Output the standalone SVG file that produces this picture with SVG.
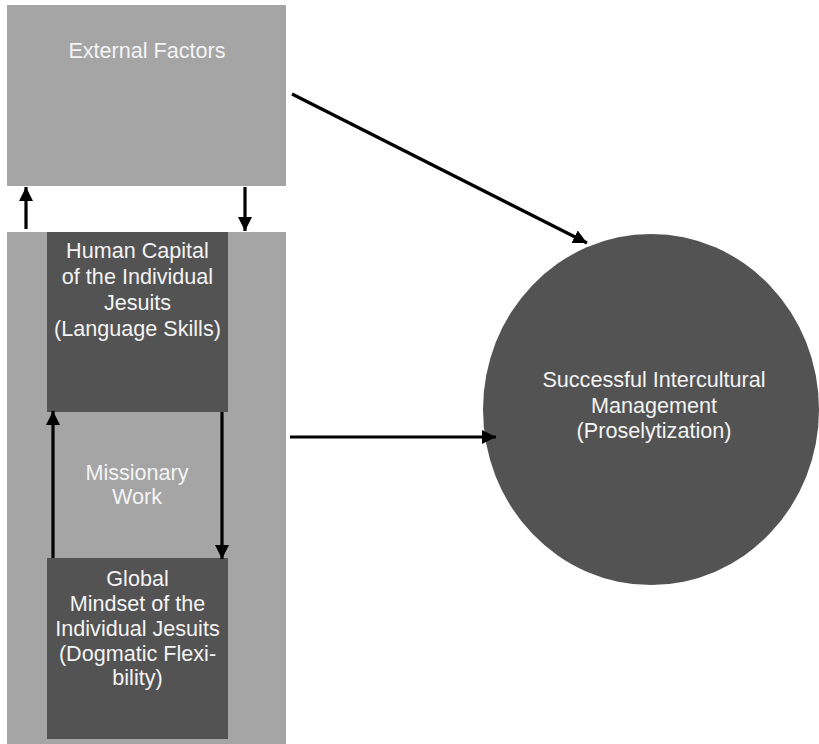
<svg xmlns="http://www.w3.org/2000/svg" width="819" height="744" viewBox="0 0 819 744">
<defs>
<style>
.light{fill:#a5a5a5}
.dark{fill:#535353}
.t{font-family:"Liberation Sans",Arial,sans-serif;font-size:21.6px;fill:#f4f4f4;text-anchor:middle}
.c{stroke:#000;stroke-width:3.2;fill:none}
</style>
<marker id="ah" markerUnits="userSpaceOnUse" markerWidth="14" markerHeight="14" viewBox="0 0 12 12" refX="12" refY="6" orient="auto">
<path d="M0,0 L12,6 L0,12 Z" fill="#000"/>
</marker>
</defs>
<rect width="819" height="744" fill="#fff"/>
<g id="external">
<rect class="light" x="7" y="5" width="279" height="181"/>
<text class="t" x="147" y="58">External Factors</text>
</g>
<g id="missionary">
<rect class="light" x="7" y="232" width="279" height="512"/>
<text class="t" x="137" y="480">Missionary</text>
<text class="t" x="137" y="504">Work</text>
</g>
<g id="human-capital">
<rect class="dark" x="47" y="232" width="181" height="180"/>
<text class="t" x="137.5" y="258">Human Capital</text>
<text class="t" x="137.5" y="284">of the Individual</text>
<text class="t" x="137.5" y="310">Jesuits</text>
<text class="t" x="137.5" y="336">(Language Skills)</text>
</g>
<g id="global-mindset">
<rect class="dark" x="47" y="558" width="181" height="181"/>
<text class="t" x="137.5" y="586">Global</text>
<text class="t" x="137.5" y="611">Mindset of the</text>
<text class="t" x="137.5" y="636">Individual Jesuits</text>
<text class="t" x="137.5" y="661">(Dogmatic Flexi-</text>
<text class="t" x="137.5" y="685">bility)</text>
</g>
<g id="success">
<ellipse class="dark" cx="651" cy="409.5" rx="168" ry="175.5"/>
<text class="t" x="654" y="387">Successful Intercultural</text>
<text class="t" x="654" y="413">Management</text>
<text class="t" x="654" y="438">(Proselytization)</text>
</g>
<g id="connectors">
<line class="c" x1="26" y1="229" x2="26" y2="187" marker-end="url(#ah)"/>
<line class="c" x1="245" y1="187" x2="245" y2="231" marker-end="url(#ah)"/>
<line class="c" x1="53" y1="558" x2="53" y2="411" marker-end="url(#ah)"/>
<line class="c" x1="222" y1="412" x2="222" y2="559" marker-end="url(#ah)"/>
<line class="c" x1="292" y1="94" x2="587" y2="243" marker-end="url(#ah)"/>
<line class="c" x1="290" y1="437" x2="496" y2="437" marker-end="url(#ah)"/>
</g>
</svg>
